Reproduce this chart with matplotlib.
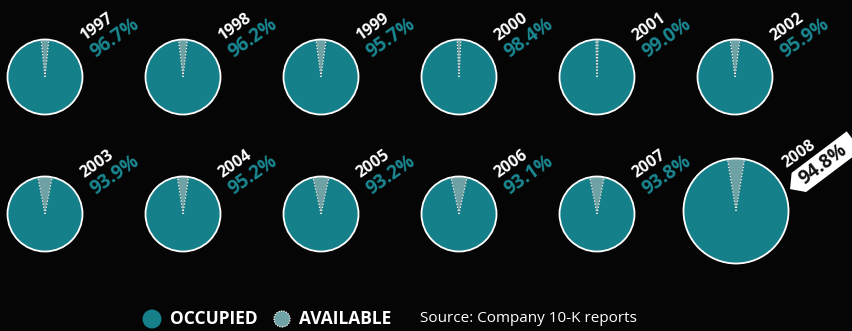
import matplotlib.pyplot as plt
import numpy as np
from matplotlib.patches import Circle, Polygon
from matplotlib.transforms import Affine2D

# occupancy rate by year
years = ['1997', '1998', '1999', '2000', '2001', '2002',
         '2003', '2004', '2005', '2006', '2007', '2008']
occupied = [96.7, 96.2, 95.7, 98.4, 99.0, 95.9,
            93.9, 95.2, 93.2, 93.1, 93.8, 94.8]

BG = '#050506'
TEAL = '#15808a'
LIGHT = '#6fa2a5'
PCT_COL = '#1a8892'
W, H = 853, 331

plt.rcParams['font.family'] = ['Open Sans', 'DejaVu Sans']

fig = plt.figure(figsize=(W / 100, H / 100), dpi=100, facecolor=BG)
ax = fig.add_axes([0, 0, 1, 1])
ax.set_facecolor(BG)


def Y(y):
    # pixel row (from top) -> data y
    return H - y


ROT = 35

for i, (yr, occ) in enumerate(zip(years, occupied)):
    avail = 100 - occ
    a = avail * 3.6
    if i < 11:
        cx = 45 + 138 * (i % 6)
        cy = Y(77 if i < 6 else 214)
        r = 37.5
    else:
        cx, cy, r = 736, Y(211), 52.5
    ax.pie([occ, avail], colors=[TEAL, LIGHT], center=(cx, cy), radius=r,
           startangle=90 + a / 2, counterclock=True,
           wedgeprops=dict(linewidth=0))
    ax.add_patch(Circle((cx, cy), r, fc='none', ec='white', lw=1.3, zorder=5))
    for ang in (90 - a / 2, 90 + a / 2):
        t = np.radians(ang)
        ax.plot([cx, cx + r * np.cos(t)], [cy, cy + r * np.sin(t)],
                color='white', lw=0.8, ls=(0, (1.2, 1.6)), zorder=6)

    if i < 11:
        ax.text(cx + 52, cy + 50, yr, color='white', fontsize=11.5, fontweight='bold',
                rotation=ROT, ha='center', va='center', rotation_mode='anchor')
        ax.text(cx + 70, cy + 39, f'{occ:.1f}%', color=PCT_COL, fontsize=13.5,
                fontweight='bold', rotation=ROT, ha='center', va='center',
                rotation_mode='anchor')
    else:
        ax.text(cx + 63, cy + 57, yr, color='white', fontsize=11.5, fontweight='bold',
                rotation=ROT, ha='center', va='center', rotation_mode='anchor')
        tx, ty = 822, Y(165)
        local = np.array([[-40, 0], [-29, 12], [40, 12], [40, -12], [-29, -12]])
        tr = Affine2D().rotate_deg(37).translate(tx, ty)
        ax.add_patch(Polygon(tr.transform(local), closed=True, fc='white',
                             ec='none', zorder=7))
        ax.text(tx + 1, ty, f'{occ:.1f}%', color='#111111', fontsize=13.5,
                fontweight='bold', rotation=37, ha='center', va='center',
                rotation_mode='anchor', zorder=8)

# legend
ax.add_patch(Circle((152, Y(319)), 9.5, fc=TEAL, ec='none'))
ax.text(170, Y(319), 'OCCUPIED', color='white', fontsize=12.5, fontweight='bold',
        ha='left', va='center')
ax.add_patch(Circle((282, Y(319)), 8, fc=LIGHT, ec='white', lw=0.9, ls=(0, (1, 1))))
ax.text(299, Y(319), 'AVAILABLE', color='white', fontsize=12.5, fontweight='bold',
        ha='left', va='center')
ax.text(420, Y(319), 'Source: Company 10-K reports', color='white', fontsize=11,
        ha='left', va='center')

ax.set_xlim(0, W)
ax.set_ylim(0, H)
ax.set_aspect('equal')
ax.axis('off')

fig.savefig('out.png', dpi=100, facecolor=BG)
